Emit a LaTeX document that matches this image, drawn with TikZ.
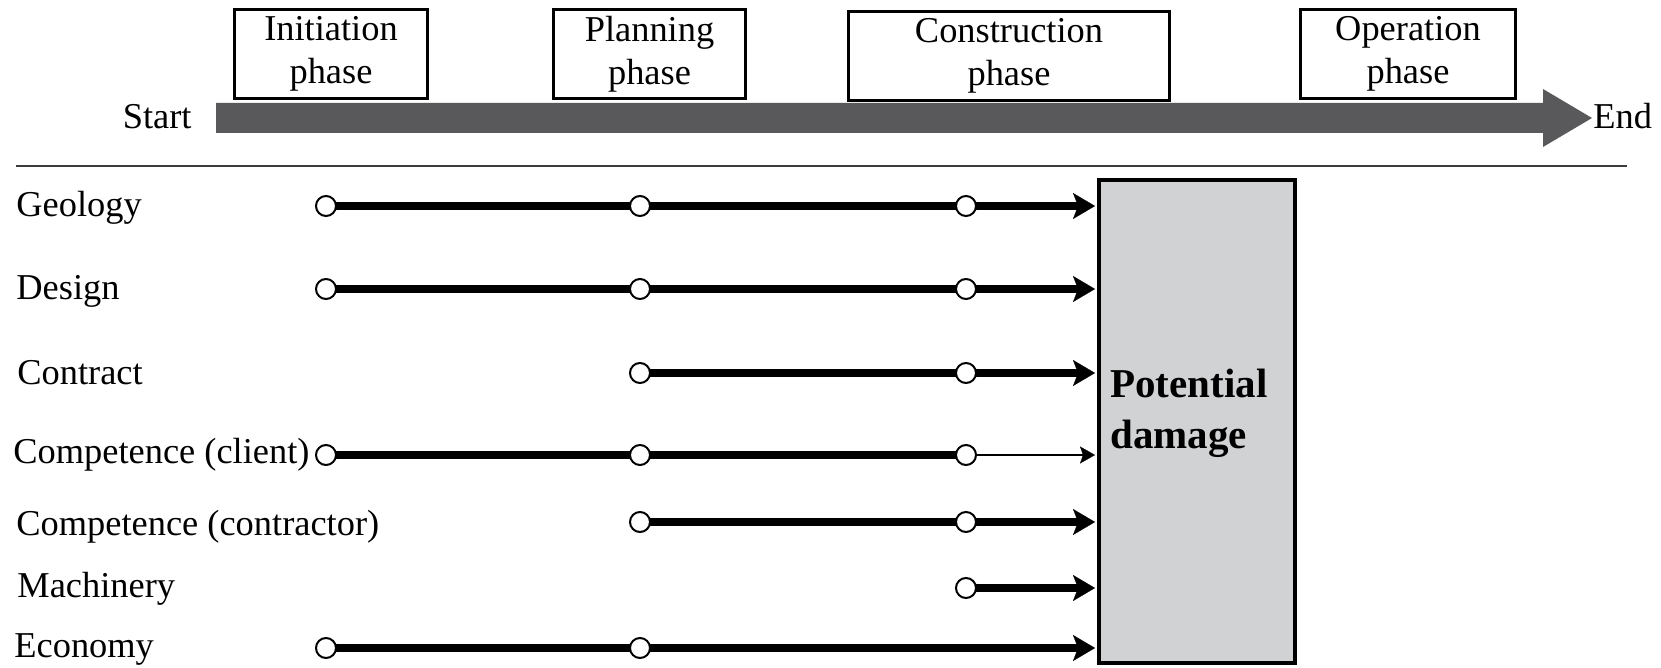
\documentclass[tikz,border=0pt]{standalone}
\usepackage{fontspec}
\setmainfont{Liberation Serif}
\usetikzlibrary{arrows.meta,backgrounds}
\definecolor{bargray}{HTML}{59595B}
\definecolor{boxgray}{HTML}{D1D2D4}
\definecolor{rulegray}{HTML}{3C3C3C}

\begin{document}
\begin{tikzpicture}[x=0.5pt,y=-0.5pt,
  every node/.style={font=\fontsize{18.2}{21.5}\selectfont},
  phasebox/.style={draw, line width=1.4pt, align=center, inner sep=0pt, minimum height=44.5pt},
  rowlabel/.style={anchor=base west, inner sep=0pt},
  dot/.style={circle, draw, fill=white, line width=1pt, minimum size=10pt, inner sep=0pt},
  flow/.style={line width=4pt},
  feed/.style={line width=4pt, -{Stealth[length=11pt,width=13pt,inset=2.5pt,line width=0.1pt]}, shorten >=1pt},
  thinfeed/.style={line width=1pt, -{Stealth[length=7.5pt,width=8.5pt,inset=1.5pt,line width=0.1pt]}, shorten >=1pt},
]
\useasboundingbox (0,0) rectangle (1661,668);

% time line with the four phases
\fill[bargray] (216,103) -- (1543,103) -- (1543,89) -- (1592,118) -- (1543,147) -- (1543,133) -- (216,133) -- cycle;
\node[anchor=base east, inner sep=0pt] (start) at (192,129) {Start};
\node[anchor=base west, inner sep=0pt] (end) at (1593,129) {End};

\node[phasebox, minimum width=96.5pt] (init) at (331,54) {Initiation\\phase};
\node[phasebox, minimum width=96pt] (plan) at (649.5,54) {Planning\\phase};
\node[phasebox, minimum width=160.5pt] (constr) at (1009,56) {Construction\\phase};
\node[phasebox, minimum width=107.5pt] (oper) at (1408,54) {Operation\\phase};

% separator
\coordinate (ruleL) at (16,166);
\coordinate (ruleR) at (1627,166);
\draw[rulegray, line width=0.9pt] (ruleL) -- (ruleR);

% damage box
\node[draw, fill=boxgray, line width=2pt, minimum width=98pt, minimum height=241pt, inner sep=0pt] (pd) at (1197,421.5) {};
\node[anchor=north west, align=left, inner sep=0pt, font=\bfseries\fontsize{20.5}{25.5}\selectfont] (pdtext) at (1110,369) {Potential\\damage};

% risk factors
\node[rowlabel] (lgeo) at (16,217) {Geology};
\node[rowlabel] (ldes) at (16,300) {Design};
\node[rowlabel] (lcon) at (17,385) {Contract};
\node[rowlabel] (lcli) at (13,463) {Competence (client)};
\node[rowlabel] (lctr) at (16,535) {Competence (contractor)};
\node[rowlabel] (lmac) at (17,597) {Machinery};
\node[rowlabel] (leco) at (14,657) {Economy};

% phase markers on each row
\node[dot] (geoA) at (326,206) {};
\node[dot] (geoB) at (640,206) {};
\node[dot] (geoC) at (966,206) {};
\node[dot] (desA) at (326,289) {};
\node[dot] (desB) at (640,289) {};
\node[dot] (desC) at (966,289) {};
\node[dot] (conB) at (640,373) {};
\node[dot] (conC) at (966,373) {};
\node[dot] (cliA) at (326,455) {};
\node[dot] (cliB) at (640,455) {};
\node[dot] (cliC) at (966,455) {};
\node[dot] (ctrB) at (640,522) {};
\node[dot] (ctrC) at (966,522) {};
\node[dot] (macC) at (966,588) {};
\node[dot] (ecoA) at (326,648) {};
\node[dot] (ecoB) at (640,648) {};

\begin{scope}[on background layer]
  \draw[flow] (geoA.center) -- (geoB.center) -- (geoC.center);
  \draw[feed] (geoC.center) -- (geoC -| pd.west);
  \draw[flow] (desA.center) -- (desB.center) -- (desC.center);
  \draw[feed] (desC.center) -- (desC -| pd.west);
  \draw[flow] (conB.center) -- (conC.center);
  \draw[feed] (conC.center) -- (conC -| pd.west);
  \draw[flow] (cliA.center) -- (cliB.center) -- (cliC.center);
  \draw[thinfeed] (cliC.center) -- (cliC -| pd.west);
  \draw[flow] (ctrB.center) -- (ctrC.center);
  \draw[feed] (ctrC.center) -- (ctrC -| pd.west);
  \draw[feed] (macC.center) -- (macC -| pd.west);
  \draw[flow] (ecoA.center) -- (ecoB.center);
  \draw[feed] (ecoB.center) -- (ecoB -| pd.west);
\end{scope}
\end{tikzpicture}
\end{document}
